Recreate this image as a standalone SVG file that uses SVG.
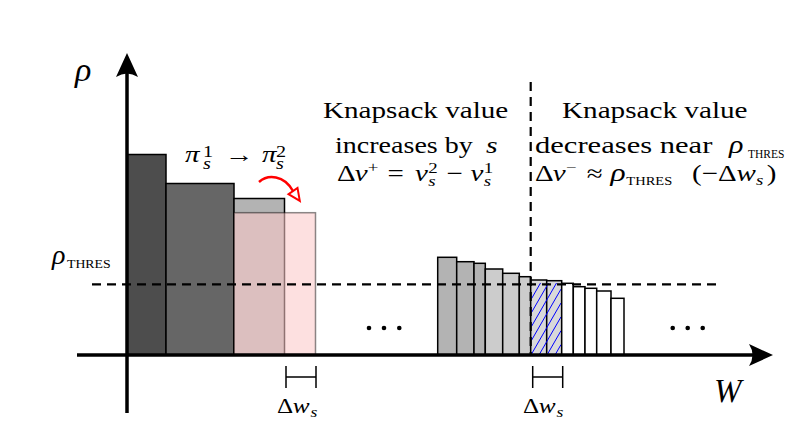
<svg xmlns="http://www.w3.org/2000/svg" width="789" height="433" viewBox="0 0 789 433">
<style>
.bar{stroke:#000;stroke-width:1.5}
.dash{stroke:#000;stroke-width:2.2;stroke-dasharray:9 6;fill:none}
.axis{stroke:#000;stroke-width:3.5;fill:none}
.brk{stroke:#000;stroke-width:1.5;fill:none}
.hatch{stroke:#0000ff;stroke-width:1}
</style>
<rect width="789" height="433" fill="#fff"/>

<g id="bars-left">
<rect class="bar" x="127" y="154.5" width="39" height="200.5" fill="#4d4d4d"/>
<rect class="bar" x="166" y="183.5" width="68" height="171.5" fill="#666666"/>
<rect class="bar" x="234" y="198.5" width="50.5" height="156.5" fill="#b3b3b3"/>
<rect x="234" y="212.7" width="81.5" height="142.3" fill="rgb(251,200,200)" fill-opacity="0.57" stroke="#000" stroke-opacity="0.45" stroke-width="1.5"/>
</g>

<g id="swap-arrow">
<path d="M259,182 C268,174 284,175 293,191" fill="none" stroke="#ff0000" stroke-width="2.5"/>
<polygon points="299.8,200.9 288.5,194.1 297.5,187.9" fill="#fff" stroke="#ff0000" stroke-width="2"/>
</g>

<g id="bars-right">
<rect class="bar" x="437.7" y="257.3" width="19" height="97.7" fill="#b3b3b3"/>
<rect class="bar" x="456.7" y="261.7" width="17.3" height="93.3" fill="#b3b3b3"/>
<rect class="bar" x="474" y="263.3" width="11.3" height="91.7" fill="#b3b3b3"/>
<rect class="bar" x="485.3" y="269" width="17.4" height="86" fill="#cccccc"/>
<rect class="bar" x="502.7" y="273.3" width="16.6" height="81.7" fill="#cccccc"/>
<rect class="bar" x="519.3" y="276.7" width="11.4" height="78.3" fill="#cccccc"/>
<rect class="bar" x="530.7" y="280" width="16" height="75" fill="#d9d9d9"/>
<rect class="bar" x="546.7" y="280.7" width="15" height="74.3" fill="#d9d9d9"/>
<g id="hatching">
<line class="hatch" x1="531.5" y1="298.7" x2="540.5" y2="283"/>
<line class="hatch" x1="531.5" y1="312.5" x2="548.5" y2="283"/>
<line class="hatch" x1="531.5" y1="326.4" x2="556.5" y2="283"/>
<line class="hatch" x1="531.5" y1="340.3" x2="561" y2="289.1"/>
<line class="hatch" x1="531.5" y1="354.1" x2="561" y2="303"/>
<line class="hatch" x1="539" y1="355" x2="561" y2="316.9"/>
<line class="hatch" x1="547" y1="355" x2="561" y2="330.7"/>
<line class="hatch" x1="555" y1="355" x2="561" y2="344.6"/>
</g>
<rect class="bar" x="561.7" y="283.3" width="11.6" height="71.7" fill="#fff"/>
<rect class="bar" x="573.3" y="286.7" width="11.7" height="68.3" fill="#fff"/>
<rect class="bar" x="585" y="288.3" width="11.7" height="66.7" fill="#fff"/>
<rect class="bar" x="596.7" y="291" width="14.3" height="64" fill="#fff"/>
<rect class="bar" x="611" y="298.3" width="13" height="56.7" fill="#fff"/>
</g>

<g id="dots">
<circle cx="369" cy="328" r="2.3"/><circle cx="384" cy="328" r="2.3"/><circle cx="399.3" cy="328" r="2.3"/>
<circle cx="672.7" cy="328" r="2.3"/><circle cx="687.7" cy="328" r="2.3"/><circle cx="702.7" cy="328" r="2.3"/>
</g>

<g id="guides">
<line class="dash" x1="92" y1="284.3" x2="720" y2="284.3"/>
<line class="dash" x1="530.7" y1="82" x2="530.7" y2="355"/>
</g>

<g id="axes">
<line class="axis" x1="127" y1="413" x2="127" y2="72"/>
<path d="M127,53 L116,77 Q127,70 138,77 Z" fill="#000"/>
<line class="axis" x1="77" y1="355" x2="755" y2="355"/>
<path d="M773,355 L749,344 Q756,355 749,366 Z" fill="#000"/>
</g>

<g id="brackets">
<path class="brk" d="M286,366 V388 M316,366 V388 M286,377 H316"/>
<path class="brk" d="M532.7,366 V388 M562.7,366 V388 M532.7,377 H562.7"/>
</g>

<g id="labels">
<text font-family="Liberation Serif" font-style="italic" x="75" y="81" font-size="34">ρ</text>
<text font-family="Liberation Serif" font-style="italic" x="714" y="402" font-size="33">W</text>
<text font-family="Liberation Serif" font-style="italic" x="52" y="263.5" font-size="28">ρ</text>
<g transform="translate(67,268) scale(1.2,1)"><text font-family="Liberation Serif" x="0" y="0" font-size="11.5">THRES</text></g>

<g transform="translate(185,162) scale(1.26,1)">
<text font-family="Liberation Serif" font-style="italic" x="0" y="0" font-size="23">π</text>
<text font-family="Liberation Serif" x="14.3" y="-5.5" font-size="16">1</text>
<text font-family="Liberation Serif" font-style="italic" x="14.3" y="7" font-size="16">s</text>
<text font-family="Liberation Serif" x="31.7" y="0" font-size="23">→</text>
<text font-family="Liberation Serif" font-style="italic" x="61.1" y="0" font-size="23">π</text>
<text font-family="Liberation Serif" x="72.2" y="-5.5" font-size="16">2</text>
<text font-family="Liberation Serif" font-style="italic" x="72.2" y="7" font-size="16">s</text>
</g>

<g transform="translate(323,118) scale(1.267,1)"><text font-family="Liberation Serif" x="0" y="0" font-size="23">Knapsack value</text></g>
<g transform="translate(335,152.5) scale(1.22,1)"><text font-family="Liberation Serif" x="0" y="0" font-size="23">increases by</text></g>
<g transform="translate(486,152.5) scale(1.3,1)"><text font-family="Liberation Serif" font-style="italic" x="0" y="0" font-size="23">s</text></g>

<g transform="translate(337,181) scale(1.26,1)">
<text font-family="Liberation Serif" x="0" y="0" font-size="23">Δ</text>
<text font-family="Liberation Serif" font-style="italic" x="14" y="0" font-size="23">v</text>
<text font-family="Liberation Serif" x="24.5" y="-9" font-size="15">+</text>
<text font-family="Liberation Serif" x="40" y="0" font-size="23">=</text>
<text font-family="Liberation Serif" font-style="italic" x="62" y="0" font-size="23">v</text>
<text font-family="Liberation Serif" x="72.5" y="-8" font-size="15">2</text>
<text font-family="Liberation Serif" font-style="italic" x="72.5" y="5" font-size="15">s</text>
<text font-family="Liberation Serif" x="87" y="0" font-size="23">−</text>
<text font-family="Liberation Serif" font-style="italic" x="106" y="0" font-size="23">v</text>
<text font-family="Liberation Serif" x="116.5" y="-8" font-size="15">1</text>
<text font-family="Liberation Serif" font-style="italic" x="116.5" y="5" font-size="15">s</text>
</g>

<g transform="translate(562,118) scale(1.27,1)"><text font-family="Liberation Serif" x="0" y="0" font-size="23">Knapsack value</text></g>
<g transform="translate(535,152.5) scale(1.33,1)"><text font-family="Liberation Serif" x="0" y="0" font-size="23">decreases near</text></g>
<g transform="translate(729,152.5) scale(1.2,1)"><text font-family="Liberation Serif" font-style="italic" x="0" y="0" font-size="25">ρ</text></g>
<text font-family="Liberation Serif" x="748" y="158" font-size="11.5">THRES</text>

<g transform="translate(535,181) scale(1.26,1)">
<text font-family="Liberation Serif" x="0" y="0" font-size="23">Δ</text>
<text font-family="Liberation Serif" font-style="italic" x="14" y="0" font-size="23">v</text>
<text font-family="Liberation Serif" x="24.5" y="-9" font-size="15">−</text>
<text font-family="Liberation Serif" x="41" y="0" font-size="23">≈</text>
<text font-family="Liberation Serif" font-style="italic" x="60" y="0" font-size="25">ρ</text>
<text font-family="Liberation Serif" x="72.5" y="3.5" font-size="11.5">THRES</text>
<text font-family="Liberation Serif" x="124.6" y="0" font-size="23">(−Δ</text>
<text font-family="Liberation Serif" font-style="italic" x="160" y="0" font-size="23">w</text>
<text font-family="Liberation Serif" font-style="italic" x="175.5" y="4" font-size="15">s</text>
<text font-family="Liberation Serif" x="184" y="0" font-size="23">)</text>
</g>

<g transform="translate(277,413) scale(1.26,1)">
<text font-family="Liberation Serif" x="0" y="0" font-size="20">Δ</text>
<text font-family="Liberation Serif" font-style="italic" x="12.5" y="0" font-size="20">w</text>
<text font-family="Liberation Serif" font-style="italic" x="26.5" y="3.5" font-size="14">s</text>
</g>
<g transform="translate(523,413) scale(1.26,1)">
<text font-family="Liberation Serif" x="0" y="0" font-size="20">Δ</text>
<text font-family="Liberation Serif" font-style="italic" x="12.5" y="0" font-size="20">w</text>
<text font-family="Liberation Serif" font-style="italic" x="26.5" y="3.5" font-size="14">s</text>
</g>
</g>
</svg>
